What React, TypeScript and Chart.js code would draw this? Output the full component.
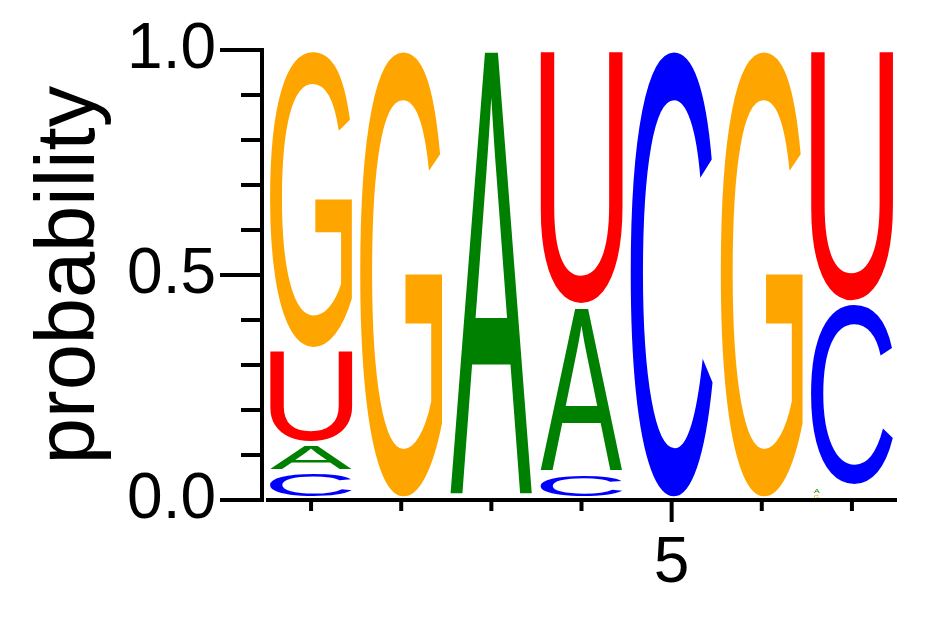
import React, { useEffect, useRef } from 'react';
import { Chart, registerables } from 'chart.js';

Chart.register(...registerables);

const positions = ['1', '2', '3', '4', '5', '6', '7'];
const labeledPositions = ['5'];
const residues = ['A', 'C', 'G', 'U'];
const probA = [0.062, 0, 1.0, 0.373, 0, 0, 0.014];
const probC = [0.06, 0, 0, 0.057, 1.0, 0, 0.41];
const probG = [0.668, 1.0, 0, 0, 0, 1.0, 0.012];
const probU = [0.21, 0, 0, 0.57, 0, 0, 0.564];
const residueColors: Record<string, string> = {
  A: '#008000',
  C: '#0000ff',
  G: '#ffa500',
  U: '#ff0000',
};
const yMinorTicks = [0, 0.1, 0.2, 0.3, 0.4, 0.5, 0.6, 0.7, 0.8, 0.9, 1.0];
const yMajorTicks = [0, 0.5, 1.0];
const yTitle = 'probability';

const FONT = "'Liberation Sans', Arial, Helvetica, sans-serif";

const probs: Record<string, number[]> = { A: probA, C: probC, G: probG, U: probU };
const stacks = positions.map((_, i) =>
  residues
    .map((l) => ({ l, p: probs[l][i] }))
    .filter((e) => e.p > 0)
    .sort((a, b) => a.p - b.p)
);
const levelCount = residues.length;

const logoPlugin = {
  id: 'logoLetters',
  afterDatasetsDraw(chart: any) {
    const ctx = chart.ctx as CanvasRenderingContext2D;
    chart.data.datasets.forEach((ds: any, k: number) => {
      const meta = chart.getDatasetMeta(k);
      meta.data.forEach((el: any, i: number) => {
        const L = ds.letters[i];
        if (!L) return;
        const { x, y, base, width } = el.getProps(['x', 'y', 'base', 'width'], true);
        const h = base - y;
        if (h <= 0.5) return;
        const inTop = Math.min(1.5, h * 0.1);
        const inBot = Math.min(3.5, h * 0.2);
        const top = y + inTop;
        const bottom = base - inBot;
        const gH = bottom - top;
        let gW = width;
        let gLeft = x - width / 2;
        if (gH < 10) {
          gW = Math.max(2, gH * 1.3);
          gLeft = x - width / 2 + 3;
        }
        ctx.save();
        ctx.font = `200px ${FONT}`;
        ctx.textAlign = 'left';
        ctx.textBaseline = 'alphabetic';
        const m = ctx.measureText(L);
        const mw = m.actualBoundingBoxLeft + m.actualBoundingBoxRight;
        const mh = m.actualBoundingBoxAscent + m.actualBoundingBoxDescent;
        ctx.translate(gLeft, top);
        ctx.scale(gW / mw, gH / mh);
        ctx.fillStyle = residueColors[L];
        ctx.fillText(L, m.actualBoundingBoxLeft, m.actualBoundingBoxAscent);
        ctx.restore();
      });
    });
  },
};

const axesPlugin = {
  id: 'logoAxes',
  afterDraw(chart: any) {
    const ctx = chart.ctx as CanvasRenderingContext2D;
    const { left, right } = chart.chartArea;
    const ys = chart.scales.y;
    const xs = chart.scales.x;
    const y0 = ys.getPixelForValue(0);
    const y1 = ys.getPixelForValue(1);
    const axisX = left - 4;
    ctx.save();
    ctx.strokeStyle = '#000';
    ctx.lineWidth = 4;
    ctx.lineCap = 'butt';
    // y axis line
    ctx.beginPath();
    ctx.moveTo(axisX, y1 - 2);
    ctx.lineTo(axisX, y0 + 2);
    ctx.stroke();
    // y ticks
    yMinorTicks.forEach((v) => {
      const py = ys.getPixelForValue(v);
      const len = yMajorTicks.includes(v) ? 42 : 21;
      ctx.beginPath();
      ctx.moveTo(axisX + 2, py);
      ctx.lineTo(axisX - len, py);
      ctx.stroke();
    });
    // x axis line
    ctx.beginPath();
    ctx.moveTo(left, y0);
    ctx.lineTo(right, y0);
    ctx.stroke();
    // x ticks
    positions.forEach((p, i) => {
      const px = xs.getPixelForValue(i);
      const len = labeledPositions.includes(p) ? 22 : 11;
      ctx.beginPath();
      ctx.moveTo(px, y0);
      ctx.lineTo(px, y0 + len);
      ctx.stroke();
    });
    ctx.restore();
  },
};

export default function App() {
  const canvasRef = useRef<HTMLCanvasElement | null>(null);

  useEffect(() => {
    const canvas = canvasRef.current;
    if (!canvas) return;
    const datasets = Array.from({ length: levelCount }, (_, k) => ({
      label: 'level ' + (k + 1),
      data: stacks.map((s) => (s[k] ? s[k].p : 0)),
      letters: stacks.map((s) => (s[k] ? s[k].l : null)),
      backgroundColor: 'rgba(0,0,0,0)',
      borderWidth: 0,
      barPercentage: 0.91,
      categoryPercentage: 1.0,
    }));

    const chart = new Chart(canvas, {
      type: 'bar',
      data: { labels: positions, datasets: datasets as any },
      options: {
        animation: false,
        responsive: false,
        devicePixelRatio: 1,
        layout: { padding: { top: 50, right: 45, left: 0, bottom: 0 } },
        plugins: {
          legend: { display: false },
          tooltip: { enabled: false },
        },
        scales: {
          x: {
            type: 'category',
            stacked: true,
            grid: { display: false, drawTicks: false },
            border: { display: false },
            ticks: {
              autoSkip: false,
              maxRotation: 0,
              minRotation: 0,
              padding: 26,
              color: '#000',
              font: { family: FONT, size: 64 },
              callback: (_v: any, i: number) =>
                labeledPositions.includes(positions[i]) ? positions[i] : '',
            },
            afterFit: (s: any) => {
              s.height = 117;
              s.paddingLeft = 0;
              s.paddingRight = 0;
            },
          },
          y: {
            type: 'linear',
            stacked: true,
            min: 0,
            max: 1,
            grid: { display: false, drawTicks: false },
            border: { display: false },
            ticks: {
              stepSize: 0.5,
              padding: 50,
              color: '#000',
              font: { family: FONT, size: 64 },
              callback: (v: any) => Number(v).toFixed(1),
            },
            title: {
              display: true,
              text: yTitle,
              color: '#000',
              font: { family: FONT, size: 83 },
              padding: { top: 21, bottom: 0 },
            },
            afterFit: (s: any) => {
              s.width = 266;
              s.paddingTop = 0;
              s.paddingBottom = 0;
            },
          },
        },
      } as any,
      plugins: [logoPlugin, axesPlugin],
    });
    return () => chart.destroy();
  }, []);

  return (
    <div style={{ position: 'fixed', left: 0, top: 0, width: 942, height: 617, background: '#fff' }}>
      <canvas ref={canvasRef} width={942} height={617} style={{ display: 'block' }} />
    </div>
  );
}
